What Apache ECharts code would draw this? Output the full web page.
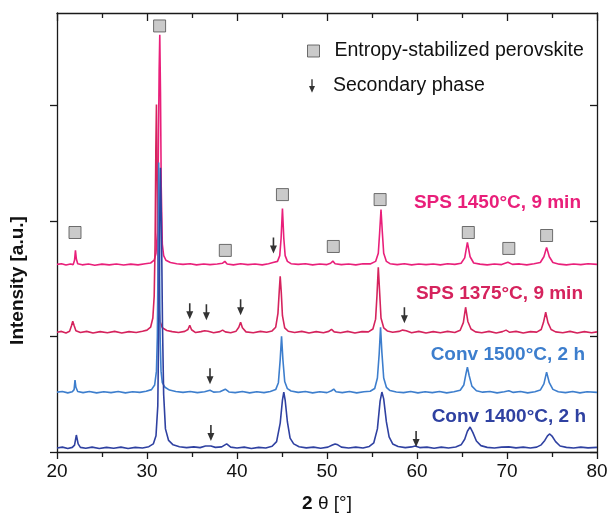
<!DOCTYPE html>
<html>
<head>
<meta charset="utf-8">
<script src="https://cdn.jsdelivr.net/npm/echarts@6/dist/echarts.min.js"></script>
<style>html,body{margin:0;padding:0;background:#fff}#c{width:611px;height:518px}</style>
</head>
<body>
<div id="c"></div>
<script>
// ---- data (2θ [°], intensity [a.u.], traces offset as in the figure) ----
const seriesNames = ['SPS 1450°C, 9 min', 'SPS 1375°C, 9 min', 'Conv 1500°C, 2 h', 'Conv 1400°C, 2 h'];
const xTicks = [20, 30, 40, 50, 60, 70, 80];

const sps1450 = [[20,1624],[20.5,1630],[21,1618],[21.5,1628],[21.8,1622],[21.95,1660],[22.05,1745],[22.15,1670],[22.3,1630],[22.8,1620],[23.5,1628],[24.2,1616],[25,1626],[25.8,1620],[26.6,1628],[27.4,1618],[28.2,1626],[29,1620],[29.8,1630],[30.4,1636],[30.8,1660],[31.0,1720],[31.15,1900],[31.25,2500],[31.35,3300],[31.42,3611],[31.5,3100],[31.58,2300],[31.7,1800],[31.85,1700],[32.1,1660],[32.6,1640],[33.3,1630],[34,1624],[34.8,1630],[35.5,1620],[36.3,1628],[37,1622],[37.8,1628],[38.4,1634],[38.65,1650],[38.9,1628],[39.6,1620],[40.4,1630],[41.2,1622],[42,1628],[42.8,1620],[43.5,1630],[44.0,1640],[44.2,1652],[44.5,1650],[44.75,1700],[44.9,1850],[45.05,2108],[45.2,1850],[45.35,1700],[45.6,1650],[46,1630],[46.8,1624],[47.6,1630],[48.4,1620],[49.2,1628],[50,1622],[50.4,1634],[50.65,1652],[50.9,1630],[51.6,1622],[52.4,1628],[53.2,1620],[54,1630],[54.8,1628],[55.4,1650],[55.7,1720],[55.85,1900],[56.0,2099],[56.15,1900],[56.3,1720],[56.6,1650],[57,1630],[57.8,1622],[58.6,1630],[59.4,1620],[60.2,1628],[61,1622],[61.8,1628],[62.6,1620],[63.4,1630],[64.2,1624],[64.9,1634],[65.3,1680],[65.6,1814],[65.9,1690],[66.3,1636],[67,1626],[67.8,1620],[68.6,1628],[69.4,1622],[70.1,1642],[70.6,1624],[71.4,1628],[72.2,1620],[73,1630],[73.7,1640],[74.1,1690],[74.4,1771],[74.7,1690],[75.1,1640],[75.8,1626],[76.6,1620],[77.4,1628],[78.2,1622],[79,1630],[80,1624]];

const sps1375 = [[20,1037],[20.5,1044],[21,1030],[21.4,1045],[21.6,1090],[21.75,1132],[21.9,1095],[22.1,1050],[22.6,1034],[23.3,1044],[24,1030],[24.8,1042],[25.6,1032],[26.4,1044],[27.2,1030],[28,1042],[28.8,1034],[29.5,1046],[30,1055],[30.4,1080],[30.65,1160],[30.8,1350],[30.9,1800],[30.98,2600],[31.05,3007],[31.12,2500],[31.2,1700],[31.3,1300],[31.45,1130],[31.7,1075],[32.2,1052],[32.8,1042],[33.5,1034],[34.2,1044],[34.55,1060],[34.75,1097],[34.95,1058],[35.4,1034],[36,1042],[36.4,1050],[36.6,1063],[36.8,1045],[37.4,1032],[38.1,1042],[38.4,1055],[38.7,1040],[39.3,1032],[39.9,1046],[40.2,1080],[40.4,1123],[40.6,1075],[41,1040],[41.8,1032],[42.6,1044],[43.3,1036],[43.9,1048],[44.3,1080],[44.55,1200],[44.7,1400],[44.8,1521],[44.92,1380],[45.05,1180],[45.3,1075],[45.7,1045],[46.4,1034],[47.2,1044],[48,1030],[48.8,1042],[49.6,1032],[50.2,1044],[50.5,1062],[50.8,1040],[51.5,1032],[52.3,1044],[53.1,1030],[53.9,1042],[54.6,1040],[55.1,1065],[55.4,1150],[55.55,1350],[55.7,1599],[55.85,1380],[56.0,1160],[56.3,1075],[56.7,1048],[57.3,1036],[58,1044],[58.4,1055],[58.6,1072],[58.8,1050],[59.4,1032],[60.2,1044],[61,1030],[61.8,1042],[62.6,1032],[63.4,1044],[64.2,1034],[64.8,1054],[65.15,1120],[65.4,1253],[65.65,1130],[66,1065],[66.5,1040],[67.2,1032],[68,1044],[68.8,1030],[69.5,1042],[69.9,1055],[70.3,1036],[71,1044],[71.8,1030],[72.6,1042],[73.3,1038],[73.8,1060],[74.05,1120],[74.3,1210],[74.55,1120],[74.9,1060],[75.4,1040],[76.2,1032],[77,1044],[77.8,1030],[78.6,1042],[79.4,1032],[80,1040]];

const conv1500 = [[20,518],[20.6,524],[21.2,512],[21.7,522],[21.9,540],[22.0,622],[22.1,560],[22.3,524],[22.9,514],[23.6,524],[24.4,512],[25.2,522],[26,514],[26.8,524],[27.6,512],[28.4,522],[29.2,516],[29.9,526],[30.5,540],[30.85,580],[31.05,700],[31.15,1000],[31.22,1600],[31.3,2506],[31.38,1700],[31.46,1000],[31.56,700],[31.7,600],[32,560],[32.5,536],[33.2,524],[34,516],[34.8,524],[35.6,514],[36.4,522],[37,535],[37.4,518],[38.1,522],[38.7,544],[39.1,520],[39.8,514],[40.6,524],[41.4,512],[42.2,522],[43,514],[43.7,524],[44.3,540],[44.6,600],[44.8,800],[44.95,1002],[45.1,800],[45.3,610],[45.6,548],[46,528],[46.8,516],[47.6,524],[48.4,512],[49.2,522],[50,514],[50.5,530],[50.75,544],[51,522],[51.7,514],[52.5,524],[53.3,512],[54.1,522],[54.8,526],[55.3,550],[55.6,640],[55.8,850],[55.95,1080],[56.1,860],[56.3,640],[56.6,560],[57,532],[57.7,520],[58.5,514],[59.3,524],[60.1,512],[60.9,522],[61.7,514],[62.5,524],[63.3,512],[64.1,522],[64.8,534],[65.2,580],[65.45,680],[65.6,734],[65.8,660],[66.1,570],[66.6,530],[67.3,518],[68.1,524],[68.9,512],[69.7,522],[70.2,530],[70.7,516],[71.5,524],[72.3,512],[73.1,522],[73.7,536],[74.1,590],[74.4,691],[74.7,600],[75.1,542],[75.7,522],[76.5,514],[77.3,524],[78.1,512],[78.9,522],[80,516]];

const conv1400 = [[20,35],[20.6,42],[21.2,30],[21.7,40],[21.95,60],[22.15,147],[22.35,70],[22.6,40],[23.2,32],[23.9,42],[24.7,30],[25.5,40],[26.3,32],[27.1,42],[27.9,30],[28.7,40],[29.5,34],[30.2,46],[30.7,70],[31.0,140],[31.2,400],[31.32,1200],[31.42,2000],[31.5,2460],[31.6,2000],[31.72,1100],[31.85,500],[32.05,200],[32.4,100],[32.9,62],[33.6,46],[34.4,38],[35.2,44],[35.9,38],[36.5,52],[37.1,52],[37.6,40],[38.3,44],[38.85,70],[39.3,42],[40,34],[40.8,42],[41.6,30],[42.4,40],[43.2,34],[43.9,50],[44.4,90],[44.8,250],[45.05,450],[45.2,519],[45.35,450],[45.6,260],[45.9,120],[46.3,70],[46.9,46],[47.7,36],[48.5,42],[49.3,32],[50.1,42],[50.6,60],[50.9,70],[51.2,62],[51.6,42],[52.4,34],[53.2,42],[54,34],[54.7,48],[55.2,80],[55.6,200],[55.9,440],[56.1,519],[56.3,460],[56.6,260],[56.9,130],[57.3,70],[57.9,48],[58.7,38],[59.4,44],[59.8,52],[60.3,38],[61.1,42],[61.9,32],[62.7,42],[63.5,34],[64.3,44],[64.9,62],[65.3,110],[65.6,180],[65.9,216],[66.2,170],[66.6,95],[67.1,55],[67.8,40],[68.6,34],[69.4,42],[70.2,44],[71,36],[71.8,42],[72.6,34],[73.3,42],[73.8,62],[74.2,100],[74.5,140],[74.75,156],[75.0,138],[75.4,90],[75.9,52],[76.6,40],[77.4,34],[78.2,42],[79,36],[80,40]];

// phase markers [2θ, intensity]
const perovskiteMarks = [[22.0,1900],[31.4,3688],[38.7,1745],[45.05,2228],[50.7,1779],[55.9,2185],[65.7,1900],[70.2,1762],[74.4,1874]];
const secondaryMarks = [[44.05,1788],[34.75,1218],[36.6,1209],[40.4,1252],[58.6,1183],[37.0,656],[37.1,164],[59.9,112]];
const legendNames = ['Entropy-stabilized perovskite', 'Secondary phase'];

// ---- chart ----
const colors = ['#E91F7A', '#D5235D', '#3D7ECD', '#2F41A1'];
const arrowPath = 'path://M2.7,0 L4.3,0 L4.3,8 L7,8 L3.5,16 L0,8 L2.7,8 Z';
const traces = [sps1450, sps1375, conv1500, conv1400];
const FONT = 'Liberation Sans, Arial, sans-serif';

const chart = echarts.init(document.getElementById('c'), null, {renderer: 'canvas'});
const axisLine = {show: true, onZero: false, lineStyle: {color: '#1a1a1a', width: 1.3}};

const option = {
  backgroundColor: '#fff',
  animation: false,
  grid: {left: 57, right: 14, top: 13, bottom: 65, containLabel: false},
  legend: [
    {data: [{name: legendNames[0], icon: 'rect'}], orient: 'vertical', left: 302, top: 36,
     itemWidth: 12, itemHeight: 12,
     itemStyle: {color: '#bdbdbd', borderColor: '#4d4d4d', borderWidth: 1},
     textStyle: {fontFamily: FONT, fontSize: 19.5, color: '#111', padding: [0, 0, 0, 10]}},
    {data: [{name: legendNames[1], icon: arrowPath}], orient: 'vertical', left: 304, top: 71,
     itemWidth: 6, itemHeight: 14,
     textStyle: {fontFamily: FONT, fontSize: 19.5, color: '#111', padding: [0, 0, 0, 13]}}
  ],
  xAxis: [
    {type: 'value', min: xTicks[0], max: xTicks[xTicks.length - 1], interval: 10, position: 'bottom',
     axisLine: axisLine,
     axisTick: {show: true, inside: false, length: 7, lineStyle: {color: '#1a1a1a', width: 1.3}},
     minorTick: {show: true, splitNumber: 2, length: 5, lineStyle: {color: '#1a1a1a', width: 1.3}},
     axisLabel: {fontFamily: FONT, fontSize: 19, color: '#111', margin: 10},
     splitLine: {show: false},
     name: '{b|2} θ [°]', nameLocation: 'middle', nameGap: 42,
     nameTextStyle: {fontFamily: FONT, fontSize: 19, color: '#111', rich: {b: {fontFamily: FONT, fontSize: 19, fontWeight: 'bold', color: '#111'}}}},
    {type: 'value', min: xTicks[0], max: xTicks[xTicks.length - 1], interval: 10, position: 'top',
     axisLine: axisLine,
     axisTick: {show: true, inside: true, length: 8, lineStyle: {color: '#1a1a1a', width: 1.3}},
     minorTick: {show: true, splitNumber: 2, length: 5, lineStyle: {color: '#1a1a1a', width: 1.3}},
     axisLabel: {show: false}, splitLine: {show: false}}
  ],
  yAxis: [
    {type: 'value', min: 0, max: 3800, position: 'left',
     axisLine: axisLine,
     axisTick: {show: true, inside: false, length: 7, customValues: [0, 1000, 2000, 3000], lineStyle: {color: '#1a1a1a', width: 1.3}},
     axisLabel: {show: false}, splitLine: {show: false},
     name: 'Intensity [a.u.]', nameLocation: 'middle', nameGap: 30,
     nameTextStyle: {fontFamily: FONT, fontSize: 19, fontWeight: 'bold', color: '#111', padding: [0, 96, 0, 0]}},
    {type: 'value', min: 0, max: 3800, position: 'right',
     axisLine: axisLine,
     axisTick: {show: true, inside: true, length: 7, customValues: [0, 1000, 2000, 3000], lineStyle: {color: '#1a1a1a', width: 1.3}},
     axisLabel: {show: false}, splitLine: {show: false}}
  ],
  series: traces.map((d, i) => ({
    name: seriesNames[i], type: 'line', data: d, showSymbol: false, symbol: 'none',
    lineStyle: {color: colors[i], width: 1.6}, itemStyle: {color: colors[i]},
    z: 2 + i, silent: true
  })).concat([
    {name: legendNames[0], type: 'scatter', data: perovskiteMarks, symbol: 'rect', symbolSize: 12,
     itemStyle: {color: '#bdbdbd', borderColor: '#4d4d4d', borderWidth: 1}, z: 10},
    {name: legendNames[1], type: 'scatter', data: secondaryMarks, symbol: arrowPath, symbolSize: [7, 16],
     itemStyle: {color: '#000'}, z: 10}
  ]),
  graphic: [
    {type: 'text', right: 30, top: 193, style: {text: seriesNames[0], fill: colors[0], font: 'bold 19px ' + FONT}},
    {type: 'text', right: 28, top: 284, style: {text: seriesNames[1], fill: colors[1], font: 'bold 19px ' + FONT}},
    {type: 'text', right: 26, top: 345, style: {text: seriesNames[2], fill: colors[2], font: 'bold 19px ' + FONT}},
    {type: 'text', right: 25, top: 407, style: {text: seriesNames[3], fill: colors[3], font: 'bold 19px ' + FONT}}
  ]
};
chart.setOption(option);
</script>
</body>
</html>
